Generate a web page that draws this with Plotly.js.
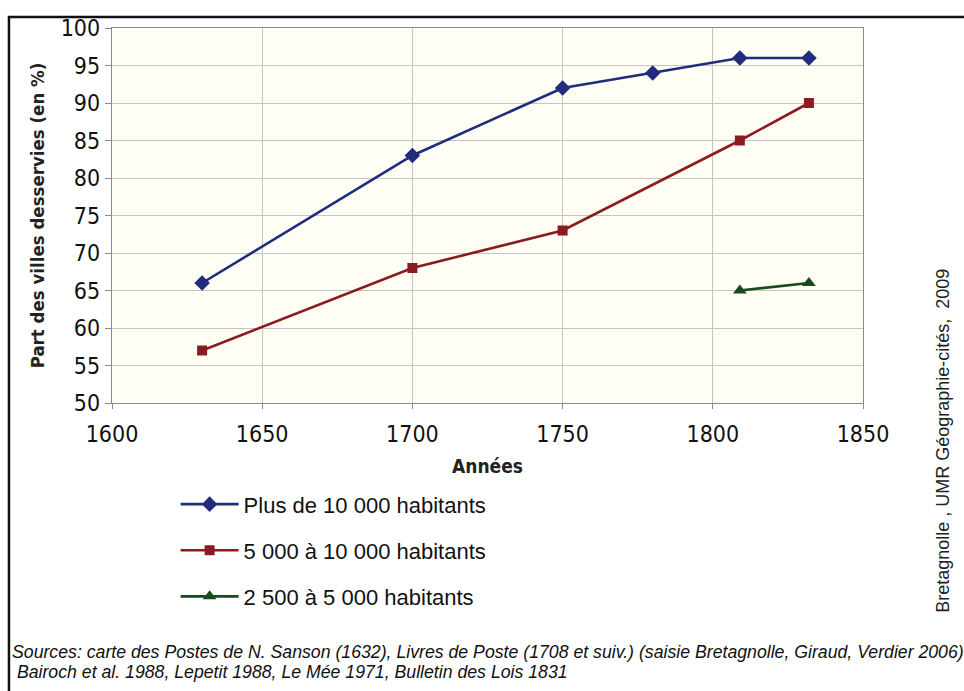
<!DOCTYPE html>
<html>
<head>
<meta charset="utf-8">
<script src="https://cdn.plot.ly/plotly-3.0.1.min.js"></script>
<style>
  html, body { margin: 0; padding: 0; background: #ffffff; }
  #chart { width: 964px; height: 691px; }
</style>
</head>
<body>
<div id="chart"></div>
<script>
// Share of towns served by the postal network, by town size
const seriesNames = [
  "Plus de 10 000 habitants",
  "5 000 à 10 000 habitants",
  "2 500 à 5 000 habitants"
];
const yearsLarge = [1630, 1700, 1750, 1780, 1809, 1832];
const shareLarge = [66, 83, 92, 94, 96, 96];
const yearsMedium = [1630, 1700, 1750, 1809, 1832];
const shareMedium = [57, 68, 73, 85, 90];
const yearsSmall = [1809, 1832];
const shareSmall = [65, 66];

const xTickVals = [1600, 1650, 1700, 1750, 1800, 1850];
const yTickVals = [50, 55, 60, 65, 70, 75, 80, 85, 90, 95, 100];

const axisTitleY = "Part des villes desservies (en %)";
const axisTitleX = "Années";
const creditText = "Bretagnolle , UMR Géographie-cités,  2009";
const sourceLines = [
  "Sources: carte des Postes de N. Sanson (1632), Livres de Poste (1708 et suiv.) (saisie Bretagnolle, Giraud, Verdier 2006)",
  " Bairoch et al. 1988, Lepetit 1988, Le Mée 1971, Bulletin des Lois 1831"
];

const colors = ["#222c7c", "#8c1a20", "#174a1c"];

const traces = [
  {
    x: yearsLarge, y: shareLarge, name: seriesNames[0], legendgroup: "a",
    mode: "lines+markers", type: "scatter",
    line: { color: colors[0], width: 2.6 },
    marker: { symbol: "diamond", size: 12, color: colors[0] }
  },
  {
    x: yearsMedium, y: shareMedium, name: seriesNames[1], legendgroup: "b",
    mode: "lines+markers", type: "scatter",
    line: { color: colors[1], width: 2.6 },
    marker: { symbol: "square", size: 10, color: colors[1] }
  },
  {
    x: yearsSmall, y: shareSmall, name: seriesNames[2], legendgroup: "c",
    mode: "lines+markers", type: "scatter",
    line: { color: colors[2], width: 2.6 },
    marker: { symbol: "triangle-up", size: 12, color: colors[2] }
  }
];

const condensed = "'DejaVu Sans Condensed', 'DejaVu Sans', sans-serif";
const sans = "'Liberation Sans', Arial, sans-serif";

const layout = {
  width: 964,
  height: 691,
  margin: { l: 112, r: 101, t: 28, b: 288 },
  paper_bgcolor: "#ffffff",
  plot_bgcolor: "#fefef5",
  showlegend: true,
  legend: {
    x: 0.0847, y: -0.2143, xanchor: "left", yanchor: "top",
    bgcolor: "rgba(0,0,0,0)",
    font: { family: sans, size: 22, color: "#111111" },
    tracegroupgap: 14.5,
    itemwidth: 58,
    traceorder: "grouped"
  },
  xaxis: {
    range: [1600, 1850],
    tickvals: xTickVals,
    ticktext: xTickVals.map(String),
    ticks: "outside", ticklen: 5, tickcolor: "#8a8a8a",
    ticklabelstandoff: 5,
    showgrid: true, gridcolor: "#c4c4c4", gridwidth: 1,
    showline: true, linecolor: "#8a8a8a", linewidth: 1.2, mirror: true,
    zeroline: false,
    tickfont: { family: condensed, size: 23, color: "#111111" },
    title: { text: axisTitleX, standoff: 14,
             font: { family: condensed, size: 19, color: "#222222", weight: "bold" } }
  },
  yaxis: {
    range: [50, 100],
    tickvals: yTickVals,
    ticktext: yTickVals.map(String),
    ticks: "outside", ticklen: 6, tickcolor: "#8a8a8a",
    ticklabelstandoff: 0,
    showgrid: true, gridcolor: "#c4c4c4", gridwidth: 1,
    showline: true, linecolor: "#8a8a8a", linewidth: 1.2, mirror: true,
    zeroline: false,
    tickfont: { family: condensed, size: 23, color: "#111111" },
    title: { text: axisTitleY, standoff: 11,
             font: { family: condensed, size: 18.5, color: "#222222", weight: "bold" } }
  },
  shapes: [
    {
      type: "rect", xref: "paper", yref: "paper",
      x0: -0.1372, x1: 1.15, y0: -0.80, y1: 1.0293,
      line: { color: "#111111", width: 2.5 },
      fillcolor: "rgba(0,0,0,0)", layer: "below"
    }
  ],
  annotations: [
    {
      text: creditText, xref: "paper", yref: "paper",
      x: 1.1065, y: -0.101, xanchor: "center", yanchor: "middle",
      textangle: -90, showarrow: false,
      font: { family: sans, size: 18, color: "#222222" }
    },
    {
      text: "<i>" + sourceLines[0] + "</i>", xref: "paper", yref: "paper",
      x: -0.1358, y: -0.663, xanchor: "left", yanchor: "middle",
      showarrow: false, align: "left",
      font: { family: sans, size: 17.7, color: "#111111" }
    },
    {
      text: "<i>" + sourceLines[1] + "</i>", xref: "paper", yref: "paper",
      x: -0.1358, y: -0.718, xanchor: "left", yanchor: "middle",
      showarrow: false, align: "left",
      font: { family: sans, size: 17.7, color: "#111111" }
    }
  ]
};

Plotly.newPlot("chart", traces, layout, { displayModeBar: false, staticPlot: true });
</script>
</body>
</html>
